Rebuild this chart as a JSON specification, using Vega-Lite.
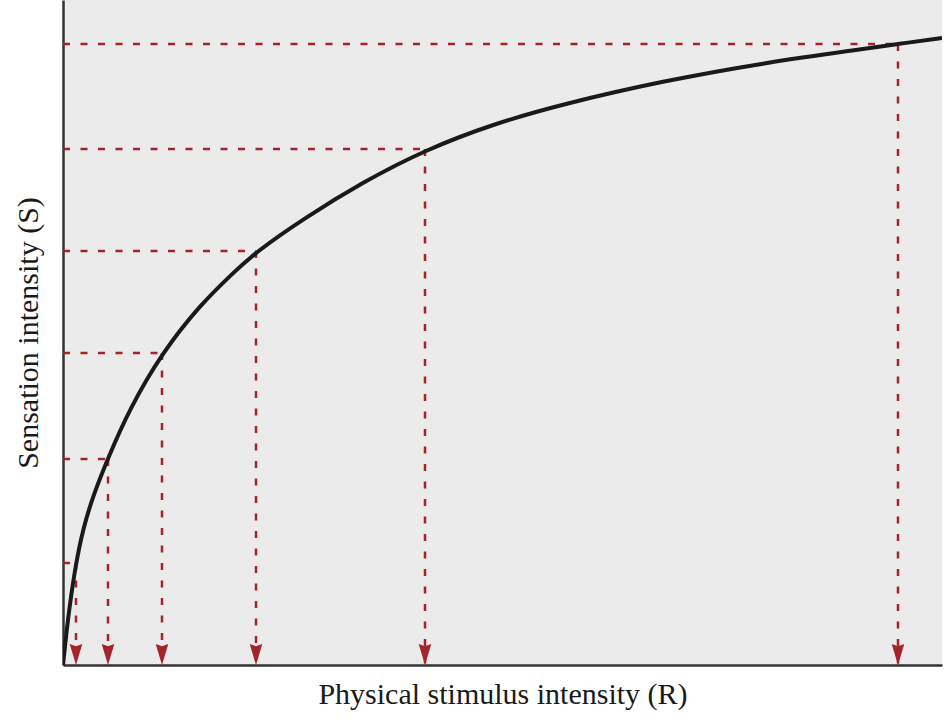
{
  "$schema": "https://vega.github.io/schema/vega-lite/v6.json",
  "width": 879,
  "height": 665,
  "autosize": {"type": "none"},
  "padding": {"left": 63, "top": 0, "right": 2, "bottom": 63},
  "background": "#ffffff",
  "config": {
    "view": {"fill": "#ebebeb", "stroke": null},
    "axis": {
      "domainColor": "#333333",
      "domainWidth": 2.5,
      "ticks": false,
      "labels": false,
      "grid": false,
      "titleFont": "Liberation Serif",
      "titleFontWeight": "normal",
      "titleFontSize": 30,
      "titleColor": "#1a1a1a"
    }
  },
  "datasets": {
    "curve": [
      {"R": 0, "S": 0}, {"R": 1.5, "S": 14}, {"R": 3.5, "S": 33}, {"R": 7, "S": 62},
      {"R": 13, "S": 102}, {"R": 20, "S": 136}, {"R": 30, "S": 169}, {"R": 45, "S": 207},
      {"R": 67, "S": 257}, {"R": 99, "S": 312},
      {"R": 137, "S": 360}, {"R": 170, "S": 392}, {"R": 193, "S": 413}, {"R": 240, "S": 446},
      {"R": 300, "S": 483}, {"R": 362, "S": 515}, {"R": 430, "S": 541}, {"R": 500, "S": 561},
      {"R": 600, "S": 584}, {"R": 700, "S": 602}, {"R": 800, "S": 616}, {"R": 835, "S": 621},
      {"R": 879, "S": 627}
    ],
    "levels": [
      {"R": 13, "S": 102, "R0": 0, "S0": 0},
      {"R": 45, "S": 206, "R0": 0, "S0": 0},
      {"R": 99, "S": 312, "R0": 0, "S0": 0},
      {"R": 193, "S": 414, "R0": 0, "S0": 0},
      {"R": 362, "S": 516, "R0": 0, "S0": 0},
      {"R": 835, "S": 621, "R0": 0, "S0": 0}
    ]
  },
  "layer": [
    {
      "data": {"name": "levels"},
      "mark": {"type": "rule", "color": "#a5232c", "strokeWidth": 2.5, "strokeDash": [7, 10.5]},
      "encoding": {
        "x": {"field": "R0", "type": "quantitative", "scale": {"domain": [0, 879], "nice": false, "zero": false}, "axis": {"title": "Physical stimulus intensity (R)", "titlePadding": 14}},
        "x2": {"field": "R"},
        "y": {"field": "S", "type": "quantitative", "scale": {"domain": [0, 665], "nice": false, "zero": false}, "axis": {"title": "Sensation intensity (S)", "titlePadding": 20}}
      }
    },
    {
      "data": {"name": "levels"},
      "mark": {"type": "rule", "color": "#a5232c", "strokeWidth": 2.5, "strokeDash": [7, 10.5]},
      "encoding": {
        "x": {"field": "R", "type": "quantitative"},
        "y": {"field": "S", "type": "quantitative"},
        "y2": {"field": "S0"}
      }
    },
    {
      "data": {"name": "levels"},
      "mark": {"type": "point", "filled": true, "shape": "M-0.6,-1 L0,-0.78 L0.6,-1 L0,1 Z", "size": 441, "color": "#a5232c", "opacity": 1, "strokeWidth": 0, "yOffset": -10.5},
      "encoding": {
        "x": {"field": "R", "type": "quantitative"},
        "y": {"field": "S0", "type": "quantitative"}
      }
    },
    {
      "data": {"name": "curve"},
      "mark": {"type": "line", "color": "#1a1a1a", "strokeWidth": 4, "interpolate": "basis", "clip": true},
      "encoding": {
        "x": {"field": "R", "type": "quantitative"},
        "y": {"field": "S", "type": "quantitative"}
      }
    }
  ]
}
